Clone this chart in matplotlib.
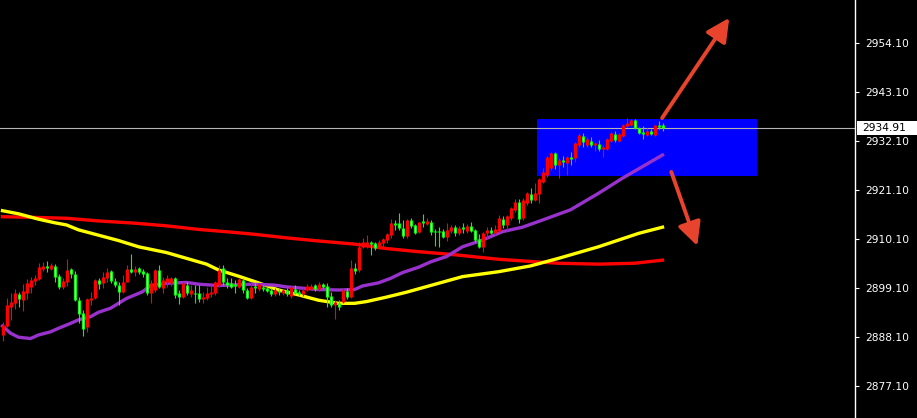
import numpy as np
import matplotlib
matplotlib.use("Agg")
import matplotlib.pyplot as plt
from matplotlib.transforms import blended_transform_factory

# svieckovy graf (OHLC), 166 sviecok
opens = [
    2888.5, 2890.5, 2894.8, 2895.6, 2897.6, 2896.35, 2897.85, 2899.3, 2900.6, 2901.0,
    2903.3, 2904.0, 2903.2, 2904.05, 2901.8, 2899.2, 2900.4, 2903.3, 2902.2, 2896.35,
    2893.4, 2890.2, 2896.35, 2896.7, 2900.85, 2900.1, 2901.2, 2902.9, 2900.6, 2899.7,
    2898.2, 2900.5, 2903.3, 2902.7, 2903.5, 2902.9, 2902.35, 2897.85, 2898.6, 2903.1,
    2899.0, 2900.3, 2900.1, 2901.2, 2897.85, 2897.1, 2899.7, 2897.7, 2897.85, 2898.0,
    2896.5, 2896.7, 2897.7, 2897.85, 2899.7, 2903.5, 2900.5, 2900.1, 2899.9, 2899.3,
    2900.85, 2898.6, 2896.7, 2899.5, 2898.75, 2899.3, 2899.0, 2898.6, 2897.6, 2898.4,
    2898.0, 2898.6, 2897.3, 2898.75, 2898.2, 2897.6, 2898.6, 2898.8, 2899.7, 2898.75,
    2899.9, 2899.5, 2897.3, 2895.2, 2895.6, 2896.0, 2898.4, 2897.1, 2903.5, 2903.1,
    2908.3, 2908.7, 2909.4, 2909.1, 2908.3, 2909.1, 2909.8, 2910.9, 2913.7, 2913.6,
    2912.45, 2910.7, 2914.3, 2913.2, 2911.55, 2914.15, 2913.4, 2913.9, 2911.9, 2911.9,
    2911.85, 2910.6, 2911.85, 2912.7, 2911.5, 2912.7, 2911.85, 2913.0, 2912.1, 2910.0,
    2908.3, 2911.3, 2912.1, 2911.3, 2911.9, 2914.5, 2913.2, 2914.7, 2916.55, 2918.4,
    2914.7, 2918.1, 2920.15, 2918.8, 2920.1, 2922.9, 2924.4, 2925.9, 2929.3, 2926.7,
    2927.8, 2927.1, 2928.5, 2928.2, 2931.15, 2933.2, 2931.15, 2932.05, 2931.15, 2931.4,
    2930.2, 2930.2, 2932.1, 2933.6, 2932.1, 2933.2, 2935.4, 2935.6, 2936.8, 2934.9,
    2934.1, 2933.4, 2934.3, 2933.4, 2935.6, 2935.6,
]
closes = [
    2890.7, 2895.2, 2896.0, 2898.0, 2896.5, 2898.4, 2900.2, 2900.85, 2901.35, 2903.8,
    2904.05, 2903.5, 2904.2, 2901.6, 2899.3, 2900.6, 2903.1, 2902.1, 2896.35, 2893.2,
    2889.8, 2896.5, 2896.9, 2900.85, 2899.9, 2901.6, 2902.7, 2900.7, 2899.7, 2898.2,
    2900.5, 2903.3, 2902.7, 2903.3, 2902.6, 2902.2, 2897.85, 2900.1, 2903.1, 2899.3,
    2900.85, 2901.2, 2901.2, 2897.5, 2897.1, 2900.1, 2897.85, 2898.6, 2897.6, 2896.5,
    2896.95, 2897.85, 2898.2, 2900.3, 2903.1, 2900.5, 2899.7, 2899.3, 2899.55, 2901.1,
    2898.6, 2896.9, 2899.3, 2899.0, 2899.9, 2898.8, 2898.4, 2897.6, 2898.6, 2898.1,
    2898.6, 2897.6, 2899.3, 2897.85, 2897.6, 2898.6, 2899.5, 2899.55, 2898.75, 2899.9,
    2899.3, 2897.1, 2895.2, 2896.0, 2894.8, 2898.6, 2896.95, 2903.5, 2902.9, 2908.3,
    2909.4, 2909.4, 2908.9, 2908.0, 2909.4, 2910.0, 2911.2, 2913.7, 2913.2, 2912.45,
    2910.7, 2914.3, 2913.0, 2911.5, 2913.8, 2913.7, 2914.15, 2911.7, 2911.7, 2911.7,
    2910.6, 2912.1, 2912.7, 2911.5, 2912.45, 2912.2, 2913.0, 2911.9, 2909.8, 2908.3,
    2911.5, 2912.1, 2911.5, 2912.2, 2914.7, 2913.2, 2915.2, 2916.9, 2918.4, 2914.5,
    2918.8, 2920.3, 2918.8, 2920.3, 2923.45, 2925.15, 2928.5, 2929.3, 2926.7, 2927.8,
    2927.3, 2928.5, 2927.9, 2931.55, 2933.4, 2931.9, 2932.5, 2931.15, 2931.7, 2930.2,
    2930.8, 2932.4, 2933.8, 2932.3, 2933.6, 2935.6, 2936.0, 2936.8, 2934.9, 2933.9,
    2933.6, 2934.3, 2933.6, 2935.6, 2935.2, 2934.91,
]
highs = [
    2891.5, 2896.8, 2897.9, 2898.8, 2898.2, 2899.9, 2901.0, 2901.6, 2901.9, 2904.6,
    2904.8, 2905.2, 2904.7, 2904.4, 2902.1, 2901.2, 2905.55, 2903.6, 2902.9, 2897.1,
    2894.1, 2896.7, 2898.2, 2901.1, 2901.2, 2902.6, 2903.5, 2903.1, 2901.2, 2900.3,
    2901.9, 2904.2, 2906.7, 2904.05, 2903.8, 2903.2, 2902.7, 2900.85, 2903.2, 2904.2,
    2901.6, 2901.9, 2901.45, 2901.45, 2898.6, 2900.5, 2900.3, 2899.7, 2899.7, 2899.7,
    2898.2, 2899.2, 2899.5, 2900.6, 2904.2, 2904.2, 2901.2, 2901.2, 2900.85, 2901.35,
    2901.2, 2899.0, 2900.1, 2900.1, 2900.1, 2899.7, 2899.3, 2899.0, 2899.0, 2899.0,
    2898.75, 2899.0, 2899.5, 2899.7, 2898.6, 2899.0, 2899.9, 2899.9, 2899.9, 2900.3,
    2900.2, 2900.1, 2898.2, 2896.35, 2896.35, 2899.0, 2899.0, 2905.3, 2904.6, 2909.4,
    2910.2, 2910.9, 2909.7, 2909.4, 2909.8, 2910.2, 2911.5, 2914.5, 2914.3, 2915.8,
    2914.3, 2914.5, 2914.7, 2913.4, 2913.9, 2915.65, 2914.7, 2914.3, 2912.2, 2912.8,
    2912.2, 2913.6, 2913.2, 2913.2, 2912.9, 2913.6, 2913.4, 2913.9, 2912.2, 2911.2,
    2911.7, 2912.7, 2912.7, 2913.2, 2915.4, 2915.2, 2915.4, 2917.2, 2918.95, 2918.95,
    2919.2, 2920.65, 2921.4, 2922.55, 2923.7, 2925.9, 2928.6, 2929.65, 2929.65, 2928.2,
    2928.7, 2928.6, 2929.65, 2931.9, 2933.9, 2933.8, 2932.9, 2932.9, 2931.9, 2932.3,
    2931.15, 2932.65, 2934.0, 2934.2, 2933.8, 2935.9, 2937.2, 2936.9, 2936.9, 2935.1,
    2935.4, 2934.9, 2934.7, 2935.6, 2936.5, 2936.0,
]
lows = [
    2887.2, 2890.3, 2891.9, 2894.3, 2894.8, 2893.9, 2896.5, 2897.85, 2899.7, 2900.85,
    2902.9, 2902.7, 2903.1, 2900.5, 2898.75, 2898.9, 2899.5, 2901.2, 2896.1, 2891.1,
    2888.3, 2889.2, 2895.2, 2896.5, 2898.8, 2899.0, 2900.5, 2900.1, 2899.3, 2895.2,
    2898.0, 2900.3, 2902.35, 2901.8, 2902.2, 2901.45, 2897.5, 2895.6, 2898.2, 2899.0,
    2897.85, 2899.3, 2899.5, 2896.7, 2895.45, 2896.7, 2897.5, 2897.1, 2895.6, 2896.0,
    2895.6, 2896.35, 2897.1, 2897.5, 2899.25, 2899.7, 2899.0, 2899.0, 2898.0, 2899.1,
    2897.85, 2896.6, 2896.5, 2897.85, 2898.4, 2898.4, 2898.1, 2897.25, 2897.3, 2897.5,
    2897.5, 2897.3, 2896.9, 2897.6, 2897.3, 2897.3, 2898.4, 2898.6, 2898.4, 2898.4,
    2899.0, 2894.8, 2894.8, 2892.0, 2894.1, 2895.6, 2896.6, 2896.7, 2902.2, 2902.7,
    2908.0, 2908.0, 2906.5, 2907.6, 2907.7, 2908.3, 2909.2, 2910.2, 2912.1, 2912.1,
    2910.2, 2910.2, 2912.45, 2911.2, 2911.3, 2912.7, 2913.2, 2910.9, 2908.5, 2908.3,
    2910.2, 2909.7, 2911.5, 2910.7, 2910.9, 2911.3, 2911.5, 2911.55, 2909.4, 2908.0,
    2907.2, 2910.0, 2911.1, 2910.9, 2911.7, 2912.45, 2912.1, 2914.3, 2916.2, 2913.6,
    2914.3, 2917.7, 2918.1, 2918.6, 2918.1, 2922.55, 2924.0, 2925.5, 2925.7, 2923.7,
    2926.3, 2924.4, 2926.7, 2927.4, 2930.65, 2930.8, 2930.8, 2930.8, 2929.7, 2929.7,
    2928.5, 2930.0, 2931.9, 2931.9, 2931.9, 2933.0, 2935.1, 2935.4, 2934.7, 2933.6,
    2932.4, 2933.2, 2933.4, 2933.2, 2934.65, 2934.3,
]

# klzave priemery (hodnoty odcitane pri vybranych sviecach)
ma_fast_idx = [0, 2, 4, 7, 9, 12, 14, 17, 19, 22, 24, 27, 31, 35, 37, 41, 46, 49, 54, 62, 68,
               71, 75, 79, 84, 88, 90, 94, 97, 100, 104, 107, 111, 115, 120, 125, 130, 135,
               142, 149, 155, 160, 165]
ma_fast = [2890.5, 2888.9, 2888.0, 2887.7, 2888.5, 2889.2, 2890.0, 2891.1, 2891.9, 2892.6,
           2893.6, 2894.5, 2896.7, 2898.2, 2899.6, 2900.1, 2900.3, 2899.9, 2899.6, 2899.9,
           2899.7, 2899.3, 2899.0, 2898.7, 2898.6, 2898.7, 2899.5, 2900.2, 2901.2, 2902.5,
           2903.7, 2904.9, 2906.1, 2908.3, 2909.8, 2911.7, 2912.7, 2914.3, 2916.6, 2920.3,
           2923.7, 2926.3, 2928.9]

ma_mid_idx = [0, 4, 9, 13, 16, 19, 24, 29, 34, 41, 46, 51, 54, 59, 64, 69, 74, 79, 84, 88,
              91, 96, 101, 107, 115, 124, 132, 139, 149, 154, 159, 165]
ma_mid = [2916.4, 2915.7, 2914.5, 2913.7, 2913.2, 2912.1, 2910.9, 2909.7, 2908.3, 2907.0,
          2905.7, 2904.4, 2903.1, 2901.7, 2900.2, 2898.6, 2897.5, 2896.3, 2895.6, 2895.6,
          2896.0, 2897.0, 2898.1, 2899.6, 2901.6, 2902.7, 2904.0, 2905.7, 2908.3, 2909.8,
          2911.3, 2912.7]

ma_slow_idx = [0, 8, 16, 24, 33, 41, 49, 57, 63, 71, 79, 88, 96, 104, 112, 124, 132, 139,
               149, 158, 165]
ma_slow = [2915.05, 2914.9, 2914.7, 2914.1, 2913.6, 2913.0, 2912.2, 2911.6, 2911.1, 2910.3,
           2909.6, 2908.9, 2907.9, 2907.2, 2906.6, 2905.5, 2905.0, 2904.6, 2904.4, 2904.6,
           2905.3]

yticks = [2877.10, 2888.10, 2899.10, 2910.10, 2921.10, 2932.10, 2943.10, 2954.10]
last_price = 2934.91

# zona (obdlznik) a sipky
zona_x = (133.7, 188.7)
zona_y = (2924.2, 2937.0)
sipka_hore = ((164.9, 2937.2), (181.7, 2959.7))
sipka_dole = ((167.2, 2925.1), (173.7, 2908.5))

W, H = 917, 418
Y0, Y1 = 2869.86, 2963.7
px = (Y1 - Y0) / H  # cena na jeden pixel

fig = plt.figure(figsize=(W / 100, H / 100), dpi=100, facecolor="black")
ax = fig.add_axes([0, 0, 855 / W, 1])
ax.set_facecolor("black")

# zona
ax.add_patch(plt.Rectangle((zona_x[0], zona_y[0]), zona_x[1] - zona_x[0], zona_y[1] - zona_y[0],
                           facecolor="#0000ff", edgecolor="none", zorder=0))

# aktualna cena
ax.axhline(last_price, color="#b4b4b4", lw=0.8, zorder=1)

# klzave priemery
ax.plot(ma_slow_idx, ma_slow, color="#ff0000", lw=2.4, zorder=2)
ax.plot(ma_mid_idx, ma_mid, color="#ffff00", lw=2.4, zorder=2)
ax.plot(ma_fast_idx, ma_fast, color="#9932cc", lw=2.4, zorder=2)

# sviecky
o = np.array(opens)
c = np.array(closes)
h = np.array(highs)
l = np.array(lows)
idx = np.arange(len(o))
up = c >= o
col = np.where(up, "#ff0000", "#00ff00")
body_lo = np.minimum(o, c)
body_hi = np.maximum(body_lo + px, np.maximum(o, c))
ax.vlines(idx, l, h, colors=col, lw=0.8, zorder=3)
ax.vlines(idx, body_lo, body_hi, colors=col, lw=2.3, zorder=4)
inner = (~up) & (body_hi - body_lo > 2.5 * px)
ax.vlines(idx[inner], body_lo[inner] + px, body_hi[inner] - px, colors="white",
          lw=0.75, zorder=5)

# sipky
for start, end in (sipka_hore, sipka_dole):
    ax.annotate("", xy=end, xytext=start, zorder=6,
                arrowprops=dict(arrowstyle="-|>,head_length=0.7,head_width=0.35",
                                color="#e8432d", lw=2.8, mutation_scale=20,
                                shrinkA=0, shrinkB=0))

# sviecka i lezi na pixeli 2.5 + 4*i (stred pixela)
ax.set_xlim(-0.625, 213.125)
ax.set_ylim(Y0, Y1)

for s in ("left", "top", "bottom"):
    ax.spines[s].set_visible(False)
ax.spines["right"].set_color("white")
ax.spines["right"].set_linewidth(1)
ax.set_xticks([])
ax.yaxis.tick_right()
ax.set_yticks(yticks)
ax.set_yticklabels([f"{v:.2f}" for v in yticks])
ax.tick_params(axis="y", colors="white", labelcolor="white", length=3, width=0.8,
               pad=4, labelsize=7.7)

# stitok s aktualnou cenou (biely obdlznik az po okraj)
tr_fig = blended_transform_factory(fig.transFigure, ax.transData)
fig.patches.append(plt.Rectangle((857 / W, last_price - 7 * px), 60 / W, 14 * px,
                                 transform=tr_fig, facecolor="white", edgecolor="none",
                                 zorder=5))
fig.text(862 / W, last_price, f"{last_price:.2f}", transform=tr_fig, ha="left",
         va="center", color="black", fontsize=7.7, zorder=6)

fig.savefig("out.png", dpi=100, facecolor="black")
